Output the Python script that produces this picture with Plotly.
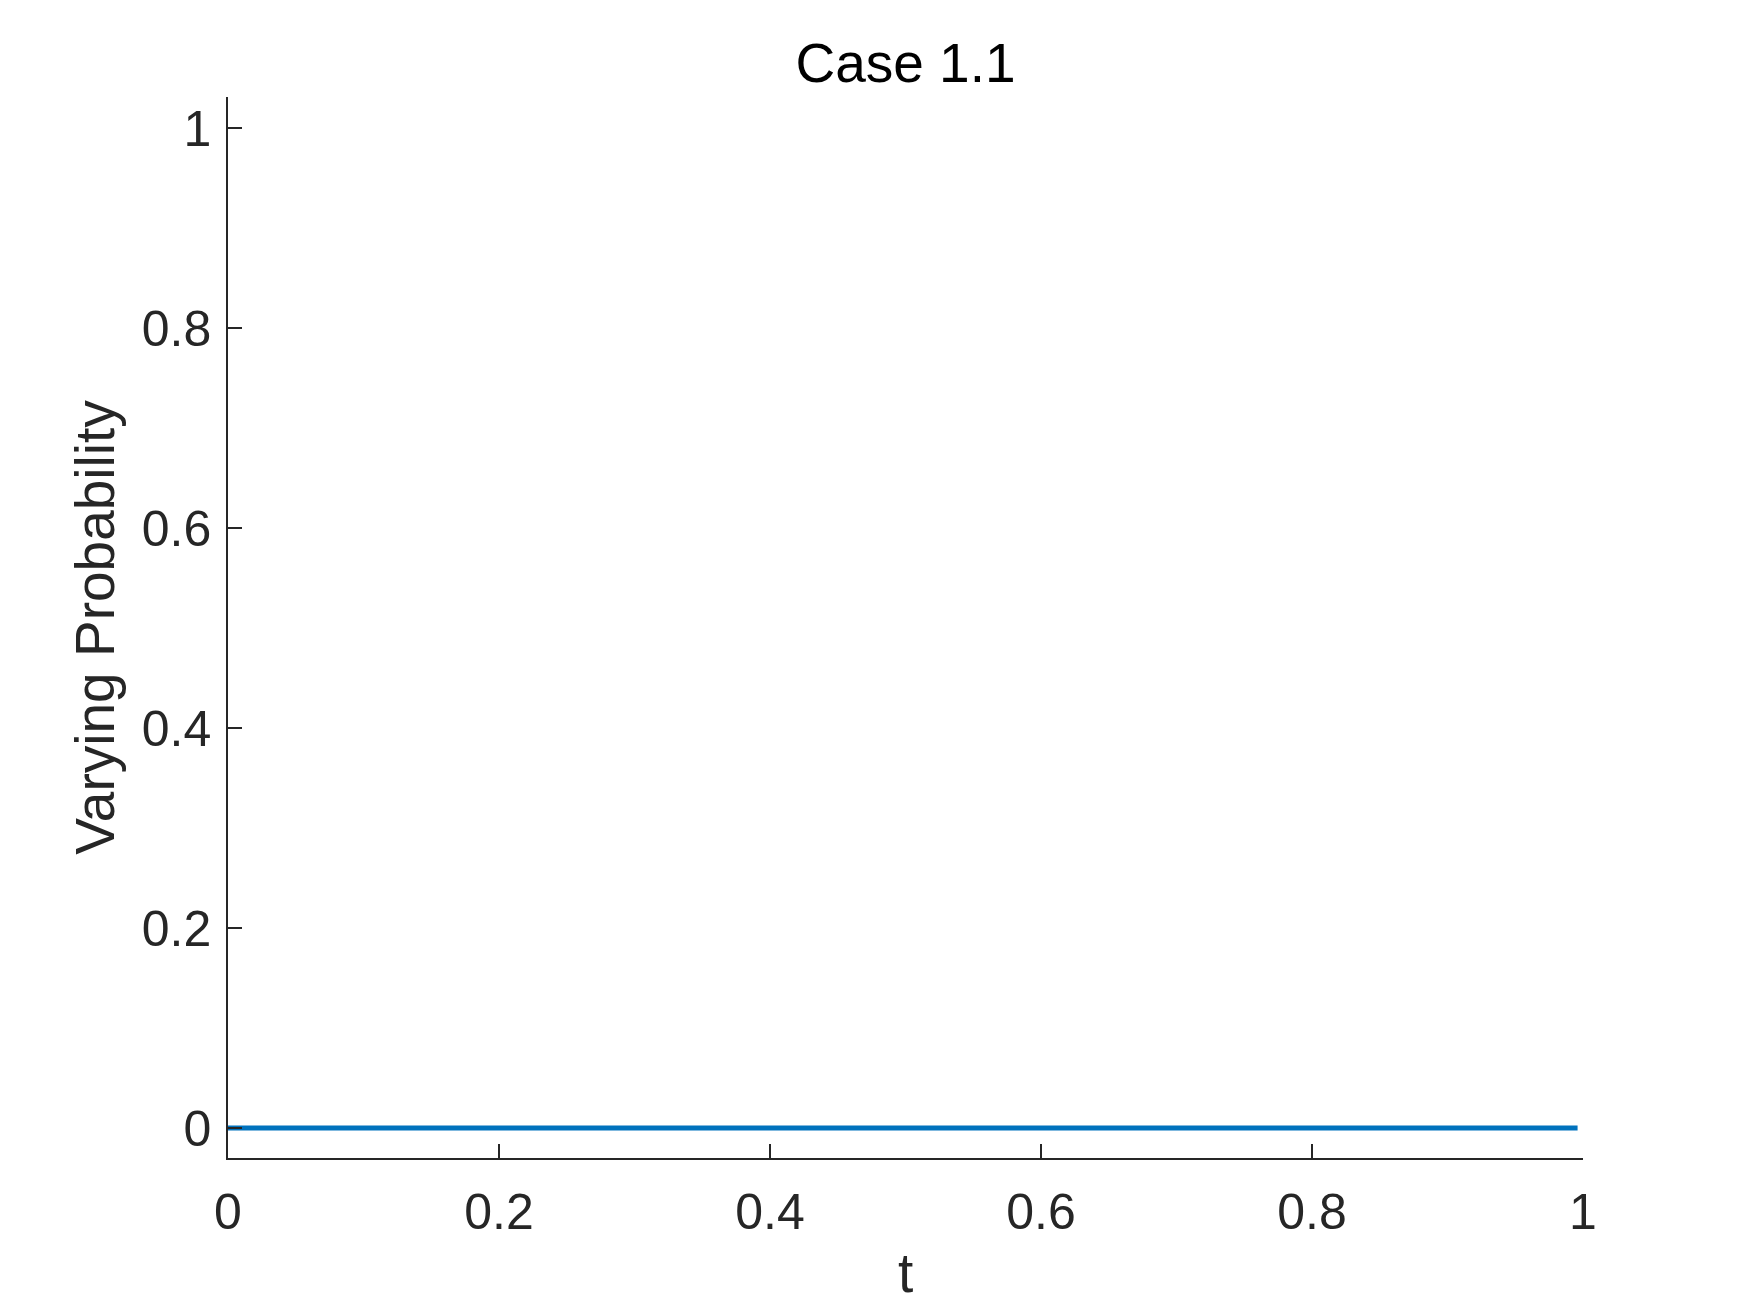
import plotly.graph_objects as go

# Data
t_values = [0.0, 0.996]
probability = [0.0, 0.0]

x_ticks = [0, 0.2, 0.4, 0.6, 0.8, 1]
x_tick_labels = ["0", "0.2", "0.4", "0.6", "0.8", "1"]
y_ticks = [0, 0.2, 0.4, 0.6, 0.8, 1]
y_tick_labels = ["0", "0.2", "0.4", "0.6", "0.8", "1"]

W, H = 1734, 1297
L, R, T, B = 220, 159, 89, 147
axis_col = "#262626"
font_fam = "Liberation Sans, Arial, Helvetica, sans-serif"

fig = go.Figure()
fig.add_trace(go.Scatter(
    x=t_values, y=probability, mode="lines",
    line=dict(color="#0072BD", width=5),
    showlegend=False,
))

fig.update_layout(
    width=W, height=H,
    margin=dict(l=L, r=R, t=T, b=B, pad=0, autoexpand=False),
    paper_bgcolor="white", plot_bgcolor="white",
    font=dict(family=font_fam, color=axis_col, size=50),
    title=dict(
        text="Case 1.1",
        font=dict(family=font_fam, size=55, color="black"),
        x=(L + (W - L - R) / 2) / W, xref="container", xanchor="center",
        y=1 - 55 / H, yref="container", yanchor="middle",
    ),
)

# x-axis title as an annotation so it is not clamped inside the margin
fig.add_annotation(
    text="t", x=0.5, y=0, xref="paper", yref="paper",
    xanchor="center", yanchor="bottom", yshift=-147, showarrow=False,
    borderpad=0,
    font=dict(size=55, color=axis_col, family=font_fam),
)

fig.update_xaxes(
    range=[0, 1], automargin=False,
    tickvals=x_ticks, ticktext=x_tick_labels,
    ticks="inside", ticklen=14, tickwidth=1.5, tickcolor=axis_col,
    showline=True, linecolor=axis_col, linewidth=1.5,
    showgrid=False, zeroline=False, mirror=False,
    tickfont=dict(size=50, color=axis_col, family=font_fam),
    ticklabelstandoff=9,
)
fig.update_yaxes(
    range=[-0.03, 1.031], automargin=False,
    tickvals=y_ticks, ticktext=y_tick_labels,
    ticks="inside", ticklen=14, tickwidth=1.5, tickcolor=axis_col,
    showline=True, linecolor=axis_col, linewidth=1.5,
    showgrid=False, zeroline=False, mirror=False,
    tickfont=dict(size=50, color=axis_col, family=font_fam),
    ticklabelstandoff=5,
    title=dict(text="Varying Probability", font=dict(size=55, color=axis_col, family=font_fam), standoff=9),
)

fig.write_html("out.html")
